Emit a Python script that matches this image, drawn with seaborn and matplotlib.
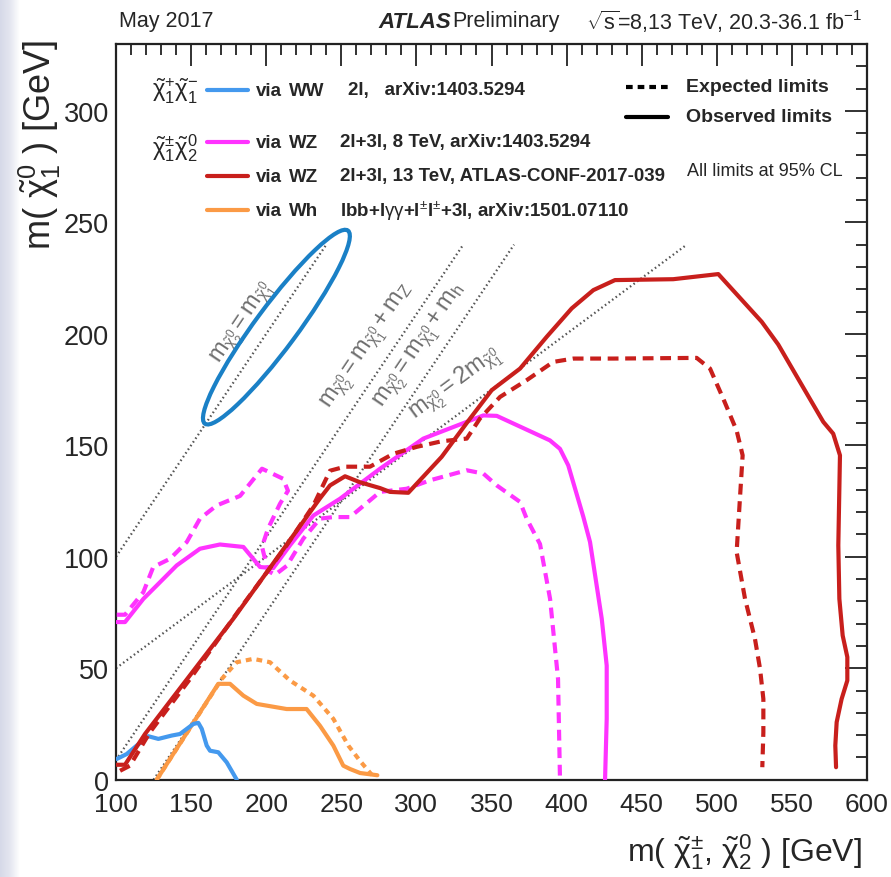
import numpy as np
import pandas as pd
import matplotlib
matplotlib.use("Agg")
import matplotlib.pyplot as plt
from matplotlib import font_manager
from matplotlib.lines import Line2D
from matplotlib.patches import Ellipse
from matplotlib.transforms import Affine2D
from matplotlib.ticker import MultipleLocator
from matplotlib.colors import LinearSegmentedColormap
import seaborn as sns

# ---------------- exclusion contours (GeV) ----------------
# chargino pair via WW, 2l, 8 TeV (observed)
ww_obs_x = [100.5, 107.1, 113.8, 121.5, 128.2, 137.1, 142.6, 151.5, 154.8, 157.1, 160.4, 162.6, 168.1, 173.7, 180.4]
ww_obs_y = [9.3, 11.5, 15.3, 19.5, 18.3, 19.8, 20.5, 25.0, 25.5, 22.8, 15.3, 13.0, 12.3, 7.8, 0.0]

# chargino-neutralino via WZ, 2l+3l, 8 TeV
wz8_obs_x = [100.5, 106.0, 118.2, 127.1, 140.4, 155.9, 169.2, 184.8, 195.9, 204.7, 215.8, 231.4, 249.1,
             275.8, 304.6, 344.6, 353.5, 388.9, 395.6, 401.1, 411.1, 415.6, 423.4, 426.7, 426.7, 425.6]
wz8_obs_y = [70.7, 70.7, 81.1, 87.1, 96.1, 103.6, 105.5, 104.4, 95.4, 94.9, 105.1, 118.5, 126.0,
             139.5, 153.0, 163.4, 163.2, 152.2, 148.4, 141.0, 118.0, 106.6, 72.2, 51.2, 27.3, 0.0]
wz8_exp_x = [100.5, 106.0, 118.2, 124.8, 136.0, 147.1, 155.9, 167.0, 182.6, 197.2, 211.2, 214.5, 209.2,
             201.2, 197.2, 201.2, 205.9, 213.8, 224.7, 235.8, 244.7, 255.8, 275.8, 293.5, 309.1, 333.5,
             344.6, 353.5, 369.0, 373.4, 382.3, 389.0, 394.3, 395.6]
wz8_exp_y = [74.0, 74.0, 84.1, 95.4, 99.1, 106.6, 117.1, 123.0, 127.3, 139.5, 135.0, 129.6, 123.8,
             112.6, 104.5, 93.7, 91.9, 96.0, 108.1, 117.1, 117.8, 117.8, 129.1, 130.5, 134.3, 138.8,
             137.3, 132.0, 124.6, 117.1, 105.7, 81.1, 45.2, 0.0]

# chargino-neutralino via WZ, 2l+3l, 13 TeV
wz13_obs_x = [100.5, 106.0, 119.3, 178.1, 235.8, 242.5, 252.5, 262.5, 275.8, 282.4, 294.6, 316.8, 334.5,
              350.1, 369.0, 386.8, 403.4, 417.8, 432.2, 471.0, 501.0, 529.9, 540.9, 555.4, 570.9, 577.5,
              582.0, 580.9, 581.6, 583.8, 586.9, 586.9, 583.1, 579.8, 578.9, 579.4]
wz13_obs_y = [6.7, 6.7, 20.5, 72.2, 126.2, 132.0, 136.1, 133.4, 130.8, 129.1, 128.7, 144.8, 160.9,
              174.7, 184.4, 198.7, 211.4, 219.6, 224.1, 224.5, 226.8, 205.4, 195.2, 178.4, 160.5, 155.2,
              145.5, 105.1, 81.1, 64.7, 55.0, 44.5, 36.2, 25.8, 15.3, 5.6]
wz13_exp_x = [102.7, 109.3, 122.6, 149.3, 182.6, 213.6, 231.4, 242.5, 252.5, 269.1, 284.6, 300.2, 316.8,
              333.5, 342.3, 355.7, 373.4, 391.1, 404.5, 431.1, 486.6, 495.5, 504.3, 513.2, 517.2, 515.4,
              513.2, 518.8, 525.4, 528.8, 531.0, 531.0, 530.3]
wz13_exp_y = [4.0, 6.3, 21.3, 45.2, 76.7, 105.1, 123.0, 138.6, 140.4, 140.4, 146.2, 149.3, 151.8,
              153.0, 162.0, 171.7, 179.2, 187.4, 188.9, 188.9, 189.2, 184.4, 170.9, 156.6, 145.5, 126.1,
              102.1, 81.1, 63.2, 49.7, 36.2, 21.3, 5.6]

# chargino-neutralino via Wh, 8 TeV
wh_obs_x = [127.1, 168.1, 175.9, 184.8, 193.7, 213.6, 226.9, 235.8, 244.7, 251.3, 255.8, 262.5, 274.0]
wh_obs_y = [0.0, 43.0, 43.0, 37.7, 34.0, 31.7, 31.7, 24.2, 15.3, 6.3, 4.8, 3.0, 2.0]
wh_exp_x = [127.1, 170.4, 180.4, 191.4, 202.5, 215.8, 231.4, 244.7, 254.7, 262.5, 270.4]
wh_exp_y = [0.0, 45.2, 52.7, 54.2, 52.7, 44.5, 37.7, 27.3, 15.3, 8.4, 2.1]

# kinematic boundaries
kin_equal_x, kin_equal_y = [100, 240], [100, 240]
kin_z_x, kin_z_y = [100, 331], [8.8, 239.8]
kin_h_x, kin_h_y = [125, 365], [0, 240]
kin_2m_x, kin_2m_y = [100, 480], [50, 240]

x_ticks = [100, 150, 200, 250, 300, 350, 400, 450, 500, 550, 600]
y_ticks = [0, 50, 100, 150, 200, 250, 300]

# ---------------- style ----------------
sns.set_style("white")
plt.rcParams["font.family"] = ["Liberation Sans", "DejaVu Sans"]
plt.rcParams["mathtext.fontset"] = "custom"
plt.rcParams["mathtext.rm"] = "Liberation Sans"
plt.rcParams["mathtext.it"] = "Liberation Sans"
plt.rcParams["mathtext.bf"] = "Liberation Sans:bold"
plt.rcParams["mathtext.sf"] = "Liberation Sans"

_installed = {f.name for f in font_manager.fontManager.ttflist}
HAS_NARROW = "Liberation Sans Narrow" in _installed
NARROW = ["Liberation Sans Narrow", "Liberation Sans"] if HAS_NARROW else ["Liberation Sans"]
HEAD_SIZE = 18 if HAS_NARROW else 15.5
XTICK_SIZE = 21 if HAS_NARROW else 19

C_BLUE = "#4499ee"
C_ELL = "#1a80c6"
C_MAG = "#ff33ff"
C_RED = "#c81f1c"
C_ORA = "#fb9a45"
C_KIN = "#555555"
C_KTXT = "#6e6e6e"

W, H = 891, 878
fig = plt.figure(figsize=(W / 100, H / 100), dpi=100)


def fx(px):
    return px / W


def fy(py):
    return 1 - py / H


# soft band on the left edge
band = fig.add_axes([0, 0, 20 / W, 1], zorder=-5)
band_cmap = LinearSegmentedColormap.from_list("band", ["#d6d9e8", "#e4e6f0", "#ffffff"])
band.imshow(np.linspace(0, 1, 64)[None, :], cmap=band_cmap, aspect="auto", extent=[0, 1, 0, 1])
band.set_axis_off()

ax = fig.add_axes([fx(116), fy(780.7), fx(867) - fx(116), fy(45) - fy(780.7)])
ax.set_xlim(100, 600)
ax.set_ylim(0, 330)


def curve(xs, ys, color, ls="-", lw=3.0, z=3):
    sns.lineplot(x=xs, y=ys, sort=False, estimator=None, color=color, linestyle=ls,
                 linewidth=lw, ax=ax, zorder=z, legend=False)


# kinematic lines
dot = (0, (0.7, 1.3))
for kx, ky in [(kin_equal_x, kin_equal_y), (kin_z_x, kin_z_y), (kin_h_x, kin_h_y), (kin_2m_x, kin_2m_y)]:
    curve(kx, ky, C_KIN, ls=dot, lw=1.6, z=1)

klabel = dict(color=C_KTXT, fontsize=17, ha="center", va="center", transform_rotates_text=True,
              rotation_mode="anchor", zorder=1)
ax.text(185.0, 205.0, r"$m_{\tilde{\chi}^{0}_{2}} = m_{\tilde{\chi}^{0}_{1}}$", rotation=45, **klabel)
ax.text(268.0, 194.5, r"$m_{\tilde{\chi}^{0}_{2}} = m_{\tilde{\chi}^{0}_{1}} + m_{Z}$", rotation=45, **klabel)
ax.text(302.5, 195.0, r"$m_{\tilde{\chi}^{0}_{2}} = m_{\tilde{\chi}^{0}_{1}} + m_{h}$", rotation=45, **klabel)
ax.text(326.0, 178.0, r"$m_{\tilde{\chi}^{0}_{2}} = 2m_{\tilde{\chi}^{0}_{1}}$",
        rotation=np.degrees(np.arctan(0.5)), **klabel)

# compressed WW region
ell = Ellipse((0, 0), 2, 2, fill=False, edgecolor=C_ELL, linewidth=3.0, zorder=4)
ell.set_transform(Affine2D(np.array([[47.6, 11.2, 206.8], [43.3, -5.6, 203.0], [0, 0, 1]])) + ax.transData)
ax.add_patch(ell)

# contours
dash = (0, (2.6, 1.6))
odash = (0, (1.4, 1.2))
curve(wz8_exp_x, wz8_exp_y, C_MAG, ls=dash, z=3)
curve(wz8_obs_x, wz8_obs_y, C_MAG, z=3)
curve(wh_exp_x, wh_exp_y, C_ORA, ls=odash, z=3)
curve(wh_obs_x, wh_obs_y, C_ORA, z=3)
curve(ww_obs_x, ww_obs_y, C_BLUE, z=4)
curve(wz13_exp_x, wz13_exp_y, C_RED, ls=dash, z=5)
curve(wz13_obs_x, wz13_obs_y, C_RED, z=5)

# axes styling
ax.set_xticks(x_ticks)
ax.set_yticks(y_ticks)
ax.xaxis.set_minor_locator(MultipleLocator(10))
ax.yaxis.set_minor_locator(MultipleLocator(10))
ax.tick_params(which="both", direction="in", top=True, right=True, width=1.3, color="#222222")
ax.tick_params(which="major", length=16)
ax.tick_params(which="minor", length=8)
ax.tick_params(axis="x", which="major", labelsize=XTICK_SIZE, pad=9)
ax.tick_params(axis="y", which="major", labelsize=19.5, pad=5)
for t in ax.get_xticklabels():
    t.set_fontfamily(NARROW)
for s in ax.spines.values():
    s.set_linewidth(1.6)
    s.set_color("#222222")
ax.set_xlabel("")
ax.set_ylabel("")

fig.text(fx(862), fy(852), r"m( $\tilde{\chi}^{\pm}_{1}$, $\tilde{\chi}^{0}_{2}$ ) [GeV]",
         ha="right", va="center", fontsize=23)
fig.text(fx(40), fy(40), r"m( $\tilde{\chi}^{0}_{1}$ ) [GeV]", rotation=90,
         ha="center", va="top", fontsize=26)

# header
fig.text(fx(119), fy(22), "May 2017", ha="left", va="center", fontsize=HEAD_SIZE, family=NARROW)
fig.text(fx(378), fy(22), "ATLAS", ha="left", va="center", fontsize=HEAD_SIZE + 0.5, fontweight="bold",
         style="italic", family=NARROW)
fig.text(fx(452), fy(22), "Preliminary", ha="left", va="center", fontsize=HEAD_SIZE, family=NARROW)
fig.text(fx(862), fy(22), r"$\sqrt{s}$=8,13 TeV, 20.3-36.1 fb$^{-1}$", ha="right", va="center",
         fontsize=HEAD_SIZE, family=NARROW)

# legend, process groups
fig.text(fx(152), fy(91), r"$\tilde{\chi}^{+}_{1}\tilde{\chi}^{-}_{1}$", ha="left", va="center", fontsize=17)
fig.text(fx(152), fy(148), r"$\tilde{\chi}^{\pm}_{1}\tilde{\chi}^{0}_{2}$", ha="left", va="center", fontsize=17)

leg_rows = [
    (91, C_BLUE, "WW", 348, "2l,   arXiv:1403.5294"),
    (143, C_MAG, "WZ", 340, "2l+3l, 8 TeV, arXiv:1403.5294"),
    (177, C_RED, "WZ", 340, "2l+3l, 13 TeV, ATLAS-CONF-2017-039"),
    (211, C_ORA, "Wh", 340, r"lbb+l$\gamma\gamma$+l$^{\pm}$l$^{\pm}$+3l, arXiv:1501.07110"),
]
for py, col, boson, xdesc, desc in leg_rows:
    fig.add_artist(Line2D([fx(207), fx(248)], [fy(py), fy(py)], color=col, lw=3.0, transform=fig.transFigure))
    fig.text(fx(256), fy(py), "via", ha="left", va="center", fontsize=13.5, fontweight="bold")
    fig.text(fx(289), fy(py), boson, ha="left", va="center", fontsize=13.5, fontweight="bold")
    fig.text(fx(xdesc), fy(py), desc, ha="left", va="center", fontsize=13.5, fontweight="bold")

# legend, line styles
fig.add_artist(Line2D([fx(626), fx(668)], [fy(88), fy(88)], color="black", lw=3.0,
                      linestyle=(0, (1.6, 1.2)), transform=fig.transFigure))
fig.add_artist(Line2D([fx(626), fx(668)], [fy(118), fy(118)], color="black", lw=3.0,
                      transform=fig.transFigure))
fig.text(fx(686), fy(88), "Expected limits", ha="left", va="center", fontsize=14, fontweight="bold")
fig.text(fx(686), fy(118), "Observed limits", ha="left", va="center", fontsize=14, fontweight="bold")
fig.text(fx(687), fy(172), "All limits at 95% CL", ha="left", va="center", fontsize=13)

fig.savefig("out.png", dpi=100)
